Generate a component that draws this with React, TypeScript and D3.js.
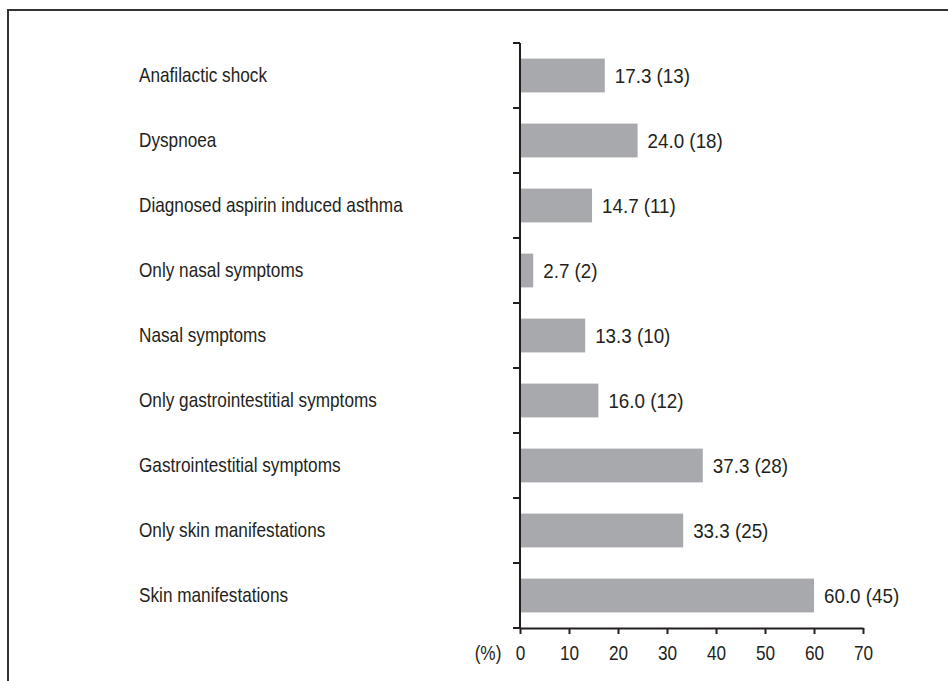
import React, { useEffect, useRef } from "react";
import * as d3 from "d3";

const categories = [
  "Anafilactic shock",
  "Dyspnoea",
  "Diagnosed aspirin induced asthma",
  "Only nasal symptoms",
  "Nasal symptoms",
  "Only gastrointestitial symptoms",
  "Gastrointestitial symptoms",
  "Only skin manifestations",
  "Skin manifestations",
];
const percents = [17.3, 24.0, 14.7, 2.7, 13.3, 16.0, 37.3, 33.3, 60.0];
const counts = [13, 18, 11, 2, 10, 12, 28, 25, 45];
const xTicks = [0, 10, 20, 30, 40, 50, 60, 70];

const App = () => {
  const svgRef = useRef<SVGSVGElement>(null);

  useEffect(() => {
    const width = 948;
    const height = 681;
    const font = "'Liberation Sans Narrow', 'Liberation Sans', Arial, sans-serif";
    const fs = 20;
    const squeeze = 0.86; // fake a condensed face
    const numSqueeze = 0.94; // digits are wider in the original font
    const ink = "#231f20";

    const svg = d3.select(svgRef.current);
    svg.selectAll("*").remove();
    svg.attr("width", width).attr("height", height);

    svg.append("rect").attr("width", width).attr("height", height).attr("fill", "#fff");

    // frame: top and left only
    svg
      .append("path")
      .attr("d", `M8,${height} V10 H${width}`)
      .attr("fill", "none")
      .attr("stroke", "#333")
      .attr("stroke-width", 2);

    const x = d3.scaleLinear().domain([0, 70]).range([520, 863]);
    const y = d3.scaleBand().domain(categories).range([43, 628]).paddingInner(0.48).paddingOuter(0.24);
    const bandStep = y.step();
    const mid = (d: string) => y(d)! + y.bandwidth() / 2;

    // bars
    svg
      .selectAll(".bar")
      .data(categories)
      .enter()
      .append("rect")
      .attr("class", "bar")
      .attr("x", x(0))
      .attr("y", (d) => y(d)!)
      .attr("width", (d, i) => x(percents[i]) - x(0))
      .attr("height", y.bandwidth())
      .attr("fill", "#a7a9ac");

    // value labels
    svg
      .selectAll(".val")
      .data(categories)
      .enter()
      .append("text")
      .attr("class", "val")
      .attr("transform", (d, i) => `translate(${x(percents[i]) + 10},${mid(d)}) scale(${numSqueeze},1)`)
      .attr("dy", "0.36em")
      .attr("font-family", font)
      .attr("font-size", fs)
      .attr("fill", ink)
      .text((d, i) => `${percents[i].toFixed(1)} (${counts[i]})`);

    // category labels
    svg
      .selectAll(".cat")
      .data(categories)
      .enter()
      .append("text")
      .attr("class", "cat")
      .attr("transform", (d) => `translate(139,${mid(d) - 1}) scale(${squeeze},1)`)
      .attr("dy", "0.36em")
      .attr("font-family", font)
      .attr("font-size", fs)
      .attr("fill", ink)
      .text((d) => d);

    // y axis with ticks at band boundaries
    const yAxis = svg.append("g");
    yAxis
      .append("line")
      .attr("x1", x(0))
      .attr("x2", x(0))
      .attr("y1", 43)
      .attr("y2", 628)
      .attr("stroke", ink)
      .attr("stroke-width", 2);
    yAxis
      .selectAll("line.tick")
      .data(d3.range(categories.length + 1))
      .enter()
      .append("line")
      .attr("class", "tick")
      .attr("x1", x(0) - 7)
      .attr("x2", x(0))
      .attr("y1", (i) => 43 + i * bandStep)
      .attr("y2", (i) => 43 + i * bandStep)
      .attr("stroke", ink)
      .attr("stroke-width", 2);

    // x axis
    const xAxis = svg
      .append("g")
      .attr("transform", "translate(0,628)")
      .call(d3.axisBottom(x).tickValues(xTicks).tickSize(6).tickSizeOuter(0).tickPadding(12));
    xAxis.select(".domain").attr("stroke", ink).attr("stroke-width", 2);
    xAxis.selectAll(".tick line").attr("stroke", ink).attr("stroke-width", 2);
    xAxis
      .selectAll(".tick text")
      .attr("transform", `scale(${squeeze},1)`)
      .attr("font-family", font)
      .attr("font-size", fs)
      .attr("fill", ink);

    svg
      .append("text")
      .attr("transform", `translate(488,660) scale(${squeeze},1)`)
      .attr("text-anchor", "middle")
      .attr("font-family", font)
      .attr("font-size", fs)
      .attr("fill", ink)
      .text("(%)");
  }, []);

  return (
    <svg ref={svgRef} style={{ position: "absolute", left: 0, top: 0, display: "block" }}></svg>
  );
};

export default App;
